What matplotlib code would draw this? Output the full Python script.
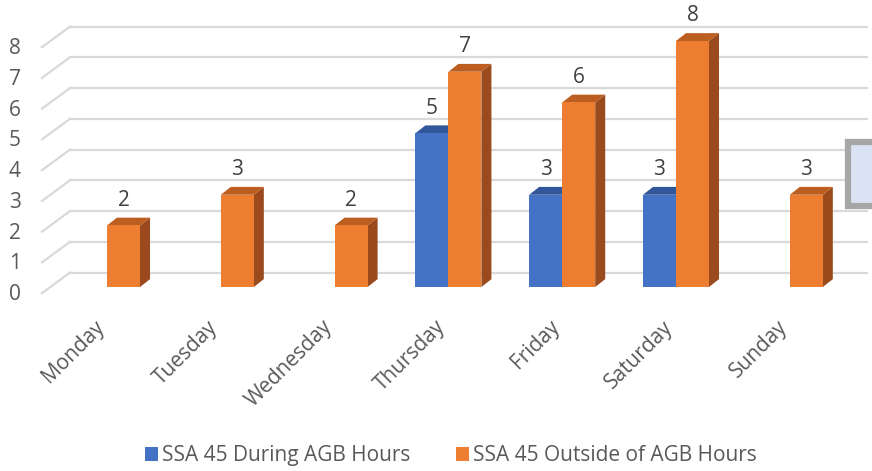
import matplotlib.pyplot as plt
from matplotlib.patches import Polygon, Rectangle

plt.rcParams['font.family'] = ['Open Sans', 'DejaVu Sans']

days = ["Monday", "Tuesday", "Wednesday", "Thursday", "Friday", "Saturday", "Sunday"]
during = [0, 0, 0, 5, 3, 3, 0]
outside = [2, 3, 2, 7, 6, 8, 3]
y_ticks = [0, 1, 2, 3, 4, 5, 6, 7, 8]

series = [
    ("SSA 45 During AGB Hours", during, ("#4472C4", "#31569A", "#2D4F8F")),
    ("SSA 45 Outside of AGB Hours", outside, ("#ED7D31", "#BC5E20", "#9A4A1C")),
]

# fake 3d geometry, data units
bar_w = 0.29
dx, dy = 0.088, 0.255
wall_front, wall_back = -0.2, 0.47
left_front, left_back, right_back = -0.571, -0.325, 6.68
fs = 15

fig = plt.figure(figsize=(8.72, 4.71), dpi=100)
ax = fig.add_axes([0, 0, 1, 1])
ax.set_xlim(-0.9402, 6.7223)
ax.set_ylim(-5.984, 9.333)
ax.axis("off")

grid_c = "#D9D9D9"
for v in y_ticks:
    ax.plot([left_front, left_back], [v + wall_front, v + wall_back], color=grid_c, lw=1.6, zorder=1)
    ax.plot([left_back, right_back], [v + wall_back, v + wall_back], color=grid_c, lw=1.6, zorder=1)
    ax.text(-0.81, v - 0.25, str(v), ha="center", va="center", fontsize=fs, color="#595959")

# bars, drawn left to right so sides hide correctly
for i, day in enumerate(days):
    for k, (name, vals, (c_front, c_top, c_side)) in enumerate(series):
        v = vals[i]
        if v == 0:
            continue
        x0 = i - bar_w + k * bar_w
        x1 = x0 + bar_w
        side = Polygon([(x1, 0), (x1 + dx, dy), (x1 + dx, v + dy), (x1, v)],
                       closed=True, fc=c_side, ec="none", zorder=3 + 2 * i + k)
        top = Polygon([(x0, v), (x0 + dx, v + dy), (x1 + dx, v + dy), (x1, v)],
                      closed=True, fc=c_top, ec="none", zorder=3 + 2 * i + k)
        front = Rectangle((x0, 0), bar_w, v, fc=c_front, ec="none", zorder=3 + 2 * i + k)
        for p in (side, top, front):
            ax.add_patch(p)
        ax.text((x0 + x1) / 2, v + 0.82, str(v), ha="center", va="center",
                fontsize=fs, color="#404040", zorder=30)

    ax.text(i - 0.05, -1.2, day, rotation=45, rotation_mode="anchor",
            ha="right", va="center", fontsize=fs, color="#595959")

# selected text box remnant at right edge
fig.patches.append(Rectangle((848 / 872, 1 - 206 / 471), 40 / 872, 64 / 471,
                             transform=fig.transFigure, fc="#DAE3F3", ec="#A6A6A6", lw=4.5))

handles = [Rectangle((0, 0), 1, 1, fc=s[2][0], ec="none") for s in series]
fig.legend(handles, [s[0] for s in series], loc="lower center", ncol=2, frameon=False,
           bbox_to_anchor=(0.517, -0.03), fontsize=fs, labelcolor="#595959",
           handlelength=0.62, handleheight=0.62, handletextpad=0.2, columnspacing=2.2)

fig.savefig("out.png", dpi=100)
